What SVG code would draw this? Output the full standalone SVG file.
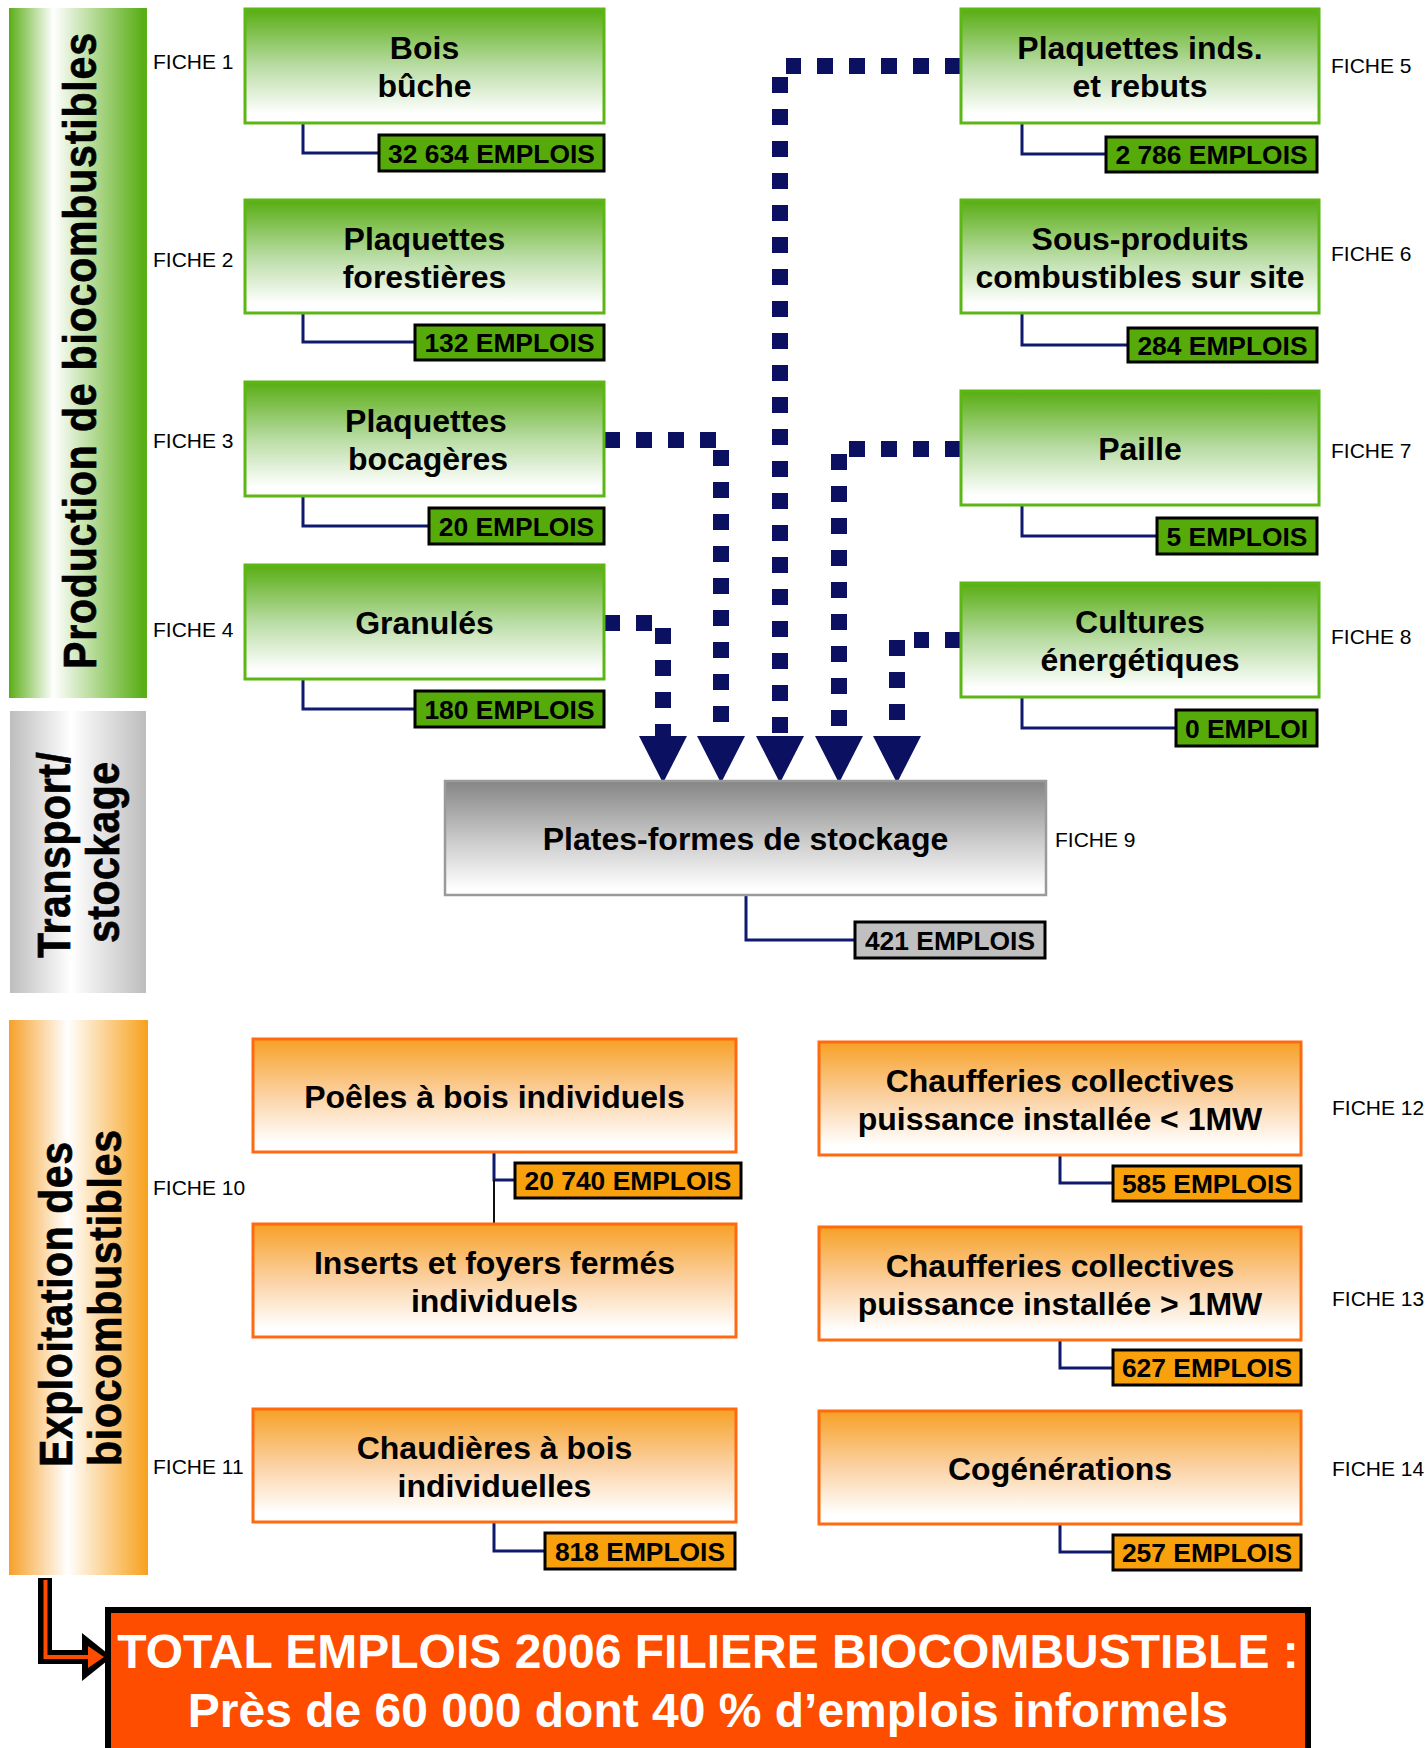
<svg xmlns="http://www.w3.org/2000/svg" width="1428" height="1748" viewBox="0 0 1428 1748">
<defs>
<linearGradient id="gNode" x1="0" y1="0" x2="0" y2="1">
<stop offset="0" stop-color="#58ad12"/><stop offset="0.5" stop-color="#b9dca4"/><stop offset="0.92" stop-color="#ffffff"/>
</linearGradient>
<linearGradient id="oNode" x1="0" y1="0" x2="0" y2="1">
<stop offset="0" stop-color="#f7a126"/><stop offset="0.5" stop-color="#fbd2a4"/><stop offset="0.92" stop-color="#ffffff"/>
</linearGradient>
<linearGradient id="sNode" x1="0" y1="0" x2="0" y2="1">
<stop offset="0" stop-color="#858585"/><stop offset="0.5" stop-color="#c8c8c8"/><stop offset="0.95" stop-color="#ffffff"/>
</linearGradient>
<linearGradient id="gBar" x1="0" y1="0" x2="1" y2="0">
<stop offset="0" stop-color="#5aae16"/><stop offset="0.32" stop-color="#ffffff"/><stop offset="0.97" stop-color="#5aae16"/>
</linearGradient>
<linearGradient id="sBar" x1="0" y1="0" x2="1" y2="0">
<stop offset="0" stop-color="#bdbdbd"/><stop offset="0.45" stop-color="#ffffff"/><stop offset="1" stop-color="#bdbdbd"/>
</linearGradient>
<linearGradient id="oBar" x1="0" y1="0" x2="1" y2="0">
<stop offset="0" stop-color="#f6a02a"/><stop offset="0.42" stop-color="#ffffff"/><stop offset="1" stop-color="#f7a11c"/>
</linearGradient>
<style>
text{font-family:"Liberation Sans",Arial,sans-serif}
.gn{fill:url(#gNode);stroke:#5cb614;stroke-width:3}
.on{fill:url(#oNode);stroke:#ff6a10;stroke-width:3}
.sn{fill:url(#sNode);stroke:#9a9a9a;stroke-width:2.5}
.gl{fill:#56ab0b;stroke:#000;stroke-width:3}
.ol{fill:#f9a00d;stroke:#000;stroke-width:3}
.sl{fill:#c0c0c0;stroke:#000;stroke-width:3}
.nt{font-size:32px;font-weight:bold;fill:#000;text-anchor:middle}
.lt{font-size:26.4px;font-weight:bold;fill:#000;text-anchor:middle}
.ft{font-size:21px;fill:#000}
.st{font-size:41px;font-weight:bold;fill:#000;stroke:#000;stroke-width:0.6}
.cn{fill:none;stroke:#0f1a6e;stroke-width:3}
.dl{fill:none;stroke:#0b1060;stroke-width:16;stroke-dasharray:16 16}
.ah{fill:#0b1060}
</style>
</defs>

<!-- side bars -->
<g id="bar-production">
<rect x="9" y="8" width="138" height="690" fill="url(#gBar)"/>
<text class="st" transform="translate(96,669) rotate(-90) scale(1,1.13)" textLength="636">Production de biocombustibles</text>
</g>
<g id="bar-transport">
<rect x="10" y="711" width="136" height="282" fill="url(#sBar)"/>
<text class="st" transform="translate(70,958) rotate(-90) scale(1,1.13)" textLength="206">Transport/</text>
<text class="st" transform="translate(119,943) rotate(-90) scale(1,1.13)" textLength="181">stockage</text>
</g>
<g id="bar-exploitation">
<rect x="9" y="1020" width="139" height="555" fill="url(#oBar)"/>
<text class="st" transform="translate(72,1467) rotate(-90) scale(1,1.13)" textLength="325">Exploitation des</text>
<text class="st" transform="translate(121,1466) rotate(-90) scale(1,1.13)" textLength="336">biocombustibles</text>
</g>

<!-- connectors -->
<g id="connectors">
<path class="cn" d="M303,123 V153 H379"/>
<path class="cn" d="M303,313 V342 H415"/>
<path class="cn" d="M303,496 V526 H429"/>
<path class="cn" d="M303,679 V709 H415"/>
<path class="cn" d="M1022,123 V154 H1106"/>
<path class="cn" d="M1022,313 V345 H1128"/>
<path class="cn" d="M1022,505 V536 H1157"/>
<path class="cn" d="M1022,697 V728 H1176"/>
<path class="cn" d="M746,895 V940 H855"/>
<path class="cn" d="M494,1152 V1180 H515"/>
<path d="M494,1180 V1224" fill="none" stroke="#111" stroke-width="2"/>
<path class="cn" d="M494,1522 V1551 H545"/>
<path class="cn" d="M1060,1155 V1183 H1113"/>
<path class="cn" d="M1060,1340 V1368 H1113"/>
<path class="cn" d="M1060,1524 V1552 H1113"/>
<!-- dotted flows -->
<path class="dl" d="M961,66 H786"/>
<path class="dl" d="M780,77 V736"/>
<path class="dl" d="M604,440 H716"/>
<path class="dl" d="M721,450 V736"/>
<path class="dl" d="M604,623 H652"/>
<path class="dl" d="M663,628 V736"/>
<path class="dl" d="M961,449 H849"/>
<path class="dl" d="M839,454 V736"/>
<path class="dl" d="M961,640 H914"/>
<path class="dl" d="M897,640 V736"/>
<polygon class="ah" points="639,736 687,736 663,783"/>
<polygon class="ah" points="697,736 745,736 721,783"/>
<polygon class="ah" points="756,736 804,736 780,783"/>
<polygon class="ah" points="815,736 863,736 839,783"/>
<polygon class="ah" points="873,736 921,736 897,783"/>
<!-- total arrow -->
<path d="M45,1578 V1657 H86" fill="none" stroke="#000" stroke-width="14"/>
<polygon points="82,1633 112,1657 82,1681" fill="#000"/>
<path d="M45.5,1580 V1657 H92" fill="none" stroke="#ff4d00" stroke-width="4"/>
<polygon points="88,1646 104,1657 88,1668" fill="#ff4d00"/>
</g>

<!-- production nodes -->
<g id="n1">
<rect class="gn" x="245" y="9" width="359" height="114"/>
<text class="nt" x="424.5" y="59">Bois</text><text class="nt" x="424.5" y="97">bûche</text>
<rect class="gl" x="379" y="135" width="225" height="36"/><text class="lt" x="491.5" y="162.5">32 634 EMPLOIS</text>
<text class="ft" x="153" y="69">FICHE 1</text>
</g>
<g id="n2">
<rect class="gn" x="245" y="200" width="359" height="113"/>
<text class="nt" x="424.5" y="249.5">Plaquettes</text><text class="nt" x="424.5" y="287.5">forestières</text>
<rect class="gl" x="415" y="325" width="189" height="35"/><text class="lt" x="509.5" y="352">132 EMPLOIS</text>
<text class="ft" x="153" y="267">FICHE 2</text>
</g>
<g id="n3">
<rect class="gn" x="245" y="382" width="359" height="114"/>
<text class="nt" x="426" y="432">Plaquettes</text><text class="nt" x="428" y="470">bocagères</text>
<rect class="gl" x="429" y="508" width="175" height="36"/><text class="lt" x="516.5" y="535.5">20 EMPLOIS</text>
<text class="ft" x="153" y="448">FICHE 3</text>
</g>
<g id="n4">
<rect class="gn" x="245" y="565" width="359" height="114"/>
<text class="nt" x="424.5" y="634">Granulés</text>
<rect class="gl" x="415" y="691" width="189" height="36"/><text class="lt" x="509.5" y="718.5">180 EMPLOIS</text>
<text class="ft" x="153" y="637">FICHE 4</text>
</g>
<g id="n5">
<rect class="gn" x="961" y="9" width="358" height="114"/>
<text class="nt" x="1140" y="59">Plaquettes inds.</text><text class="nt" x="1140" y="97">et rebuts</text>
<rect class="gl" x="1106" y="137" width="211" height="35"/><text class="lt" x="1211.5" y="164">2 786 EMPLOIS</text>
<text class="ft" x="1331" y="73">FICHE 5</text>
</g>
<g id="n6">
<rect class="gn" x="961" y="200" width="358" height="113"/>
<text class="nt" x="1140" y="249.5">Sous-produits</text><text class="nt" x="1140" y="287.5">combustibles sur site</text>
<rect class="gl" x="1128" y="328" width="189" height="34"/><text class="lt" x="1222.5" y="354.5">284 EMPLOIS</text>
<text class="ft" x="1331" y="261">FICHE 6</text>
</g>
<g id="n7">
<rect class="gn" x="961" y="391" width="358" height="114"/>
<text class="nt" x="1140" y="460">Paille</text>
<rect class="gl" x="1157" y="518" width="160" height="36"/><text class="lt" x="1237" y="545.5">5 EMPLOIS</text>
<text class="ft" x="1331" y="458">FICHE 7</text>
</g>
<g id="n8">
<rect class="gn" x="961" y="583" width="358" height="114"/>
<text class="nt" x="1140" y="633">Cultures</text><text class="nt" x="1140" y="671">énergétiques</text>
<rect class="gl" x="1176" y="710" width="141" height="36"/><text class="lt" x="1246.5" y="737.5">0 EMPLOI</text>
<text class="ft" x="1331" y="644">FICHE 8</text>
</g>

<!-- storage -->
<g id="n9">
<rect class="sn" x="445" y="781" width="601" height="114"/>
<text class="nt" x="745.5" y="850">Plates-formes de stockage</text>
<rect class="sl" x="855" y="922" width="190" height="36"/><text class="lt" x="950" y="949.5">421 EMPLOIS</text>
<text class="ft" x="1055" y="847">FICHE 9</text>
</g>

<!-- exploitation nodes -->
<g id="n10a">
<rect class="on" x="253" y="1039" width="483" height="113"/>
<text class="nt" x="494.5" y="1107.5">Poêles à bois individuels</text>
<rect class="ol" x="515" y="1163" width="226" height="35"/><text class="lt" x="628" y="1190">20 740 EMPLOIS</text>
<text class="ft" x="153" y="1195">FICHE 10</text>
</g>
<g id="n10b">
<rect class="on" x="253" y="1224" width="483" height="113"/>
<text class="nt" x="494.5" y="1273.5">Inserts et foyers fermés</text><text class="nt" x="494.5" y="1311.5">individuels</text>
</g>
<g id="n11">
<rect class="on" x="253" y="1409" width="483" height="113"/>
<text class="nt" x="494.5" y="1458.5">Chaudières à bois</text><text class="nt" x="494.5" y="1496.5">individuelles</text>
<rect class="ol" x="545" y="1533" width="190" height="36"/><text class="lt" x="640" y="1560.5">818 EMPLOIS</text>
<text class="ft" x="153" y="1474">FICHE 11</text>
</g>
<g id="n12">
<rect class="on" x="819" y="1042" width="482" height="113"/>
<text class="nt" x="1060" y="1091.5">Chaufferies collectives</text><text class="nt" x="1060" y="1129.5">puissance installée &lt; 1MW</text>
<rect class="ol" x="1113" y="1166" width="188" height="35"/><text class="lt" x="1207" y="1193">585 EMPLOIS</text>
<text class="ft" x="1332" y="1115">FICHE 12</text>
</g>
<g id="n13">
<rect class="on" x="819" y="1227" width="482" height="113"/>
<text class="nt" x="1060" y="1276.5">Chaufferies collectives</text><text class="nt" x="1060" y="1314.5">puissance installée &gt; 1MW</text>
<rect class="ol" x="1113" y="1350" width="188" height="35"/><text class="lt" x="1207" y="1377">627 EMPLOIS</text>
<text class="ft" x="1332" y="1306">FICHE 13</text>
</g>
<g id="n14">
<rect class="on" x="819" y="1411" width="482" height="113"/>
<text class="nt" x="1060" y="1479.5">Cogénérations</text>
<rect class="ol" x="1113" y="1535" width="188" height="35"/><text class="lt" x="1207" y="1562">257 EMPLOIS</text>
<text class="ft" x="1332" y="1476">FICHE 14</text>
</g>

<!-- total -->
<g id="total">
<rect x="108" y="1610" width="1200" height="160" fill="#ff4d00" stroke="#000" stroke-width="6"/>
<text x="708" y="1668" font-size="48" font-weight="bold" fill="#fff" text-anchor="middle">TOTAL EMPLOIS 2006 FILIERE BIOCOMBUSTIBLE :</text>
<text x="708" y="1727" font-size="48" font-weight="bold" fill="#fff" text-anchor="middle">Près de 60 000 dont 40 % d’emplois informels</text>
</g>
</svg>
